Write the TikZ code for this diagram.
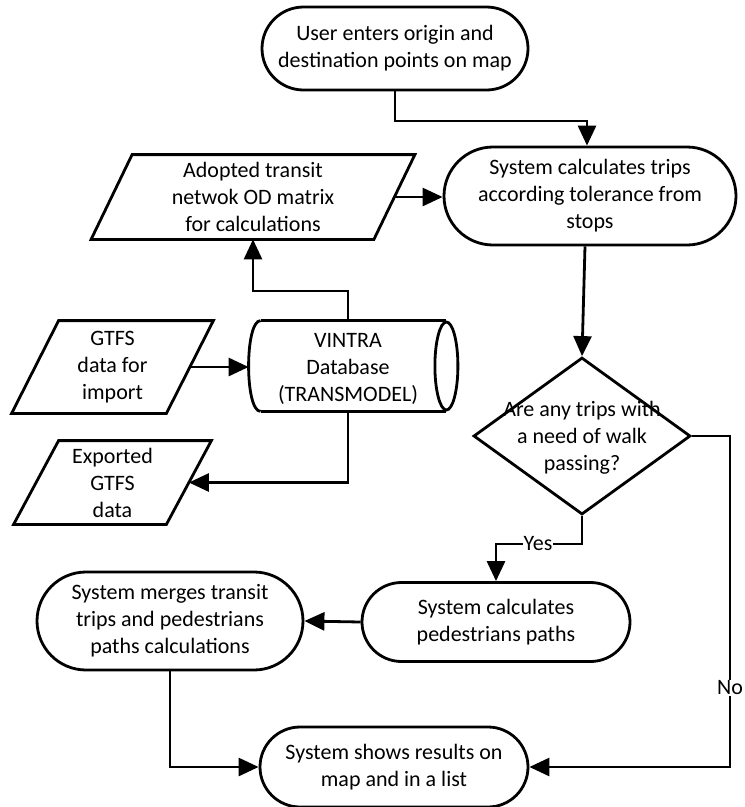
\documentclass[tikz,border=0pt]{standalone}
\usepackage{fontspec}
\setmainfont{Carlito}
\usetikzlibrary{shapes.geometric,arrows.meta,calc}
\begin{document}
\begin{tikzpicture}[x=1pt,y=-1pt,line width=2.8pt,
  font=\fontsize{22}{27}\selectfont,
  stadium/.style={draw,rectangle,align=center,inner sep=0pt},
  parabox/.style={rectangle,align=center,inner sep=0pt},
  txt/.style={align=center,inner sep=0pt},
  lbl/.style={fill=white,inner sep=1pt},
  arr/.style={-{Triangle[length=20pt,width=18pt]}}]
\useasboundingbox (0,0) rectangle (745,807);

% stadium nodes
\node[stadium,minimum width=266pt,minimum height=83pt,rounded corners=41.5pt] (user) at (395,48.5) {User enters origin and\\destination points on map};
\node[stadium,minimum width=292pt,minimum height=98pt,rounded corners=49pt] (trips) at (590,196) {System calculates trips\\according tolerance from\\stops};
\node[stadium,minimum width=268pt,minimum height=79pt,rounded corners=39.5pt] (ped) at (496,622) {System calculates\\pedestrians paths};
\node[stadium,minimum width=266pt,minimum height=98pt,rounded corners=49pt] (merges) at (170,621) {System merges transit\\trips and pedestrians\\paths calculations};
\node[stadium,minimum width=268pt,minimum height=80pt,rounded corners=40pt] (results) at (394,767) {System shows results on\\map and in a list};

% decision
\node[draw,diamond,minimum width=217pt,minimum height=157pt,inner sep=0pt] (dec) at (582,436) {};
\node[txt] (dect) at (582,438) {Are any trips with\\a need of walk\\passing?};

% data (parallelograms)
\node[parabox,minimum width=280pt,minimum height=82pt] (adopted) at (253,197) {Adopted transit\\netwok OD matrix\\for calculations};
\draw[line join=miter] ($(adopted.south west)+(-20.5,0)$) -- ($(adopted.south east)+(-20.5,0)$) -- ($(adopted.north east)+(20.5,0)$) -- ($(adopted.north west)+(20.5,0)$) -- cycle;
\node[parabox,minimum width=152pt,minimum height=90pt] (gtfs) at (112.5,367) {GTFS\\data for\\import};
\draw[line join=miter] ($(gtfs.south west)+(-23.5,0)$) -- ($(gtfs.south east)+(-23.5,0)$) -- ($(gtfs.north east)+(23.5,0)$) -- ($(gtfs.north west)+(23.5,0)$) -- cycle;
\node[parabox,minimum width=150pt,minimum height=81pt] (exported) at (112.5,482.5) {Exported\\GTFS\\data};
\draw[line join=miter] ($(exported.south west)+(-22.5,0)$) -- ($(exported.south east)+(-22.5,0)$) -- ($(exported.north east)+(22.5,0)$) -- ($(exported.north west)+(22.5,0)$) -- cycle;

% database cylinder (body node + drawn ends)
\node[parabox,minimum width=183pt,minimum height=88pt] (db) at (353.5,366) {};
\node[txt] (dbt) at (348,369) {VINTRA\\Database\\(TRANSMODEL)};
\draw (db.north west) -- (db.north east);
\draw (db.south west) -- (db.south east);
\draw (db.north west) .. controls +(-16,0) and +(-16,0) .. (db.south west);
\draw (db.east) ellipse [x radius=11.5pt,y radius=44pt];
\coordinate (dbl) at ($(db.west)+(-12,0)$);

% connectors
\coordinate (c1) at (587,121);
\draw[arr] (user.south) |- (c1) -- (c1 |- trips.north);
\draw[arr] (adopted.east) -- (adopted.east -| trips.west);
\coordinate (c2) at (253,291);
\draw[arr] (dbt |- db.north) |- (c2) -- (adopted.south);
\draw[arr] (gtfs.east) -- (gtfs.east -| dbl);
\draw[arr] (dbt |- db.south) |- (exported.east);
\draw[arr] ($(dec.north |- trips.south)+(3,0)$) -- (dec.north);
\coordinate (cy) at (582,544);
\draw[arr] (dec.south) -- (cy) -| (ped.north);
\node[lbl] (yes) at (538,544) {Yes};
\coordinate (cno) at (730,767);
\draw[arr] (dec.east) -| (cno) -- (results.east);
\node[lbl] (no) at (730,688) {No};
\draw[arr] (ped.west) -- (merges.east);
\draw[arr] (merges.south) |- (results.west);
\end{tikzpicture}
\end{document}
